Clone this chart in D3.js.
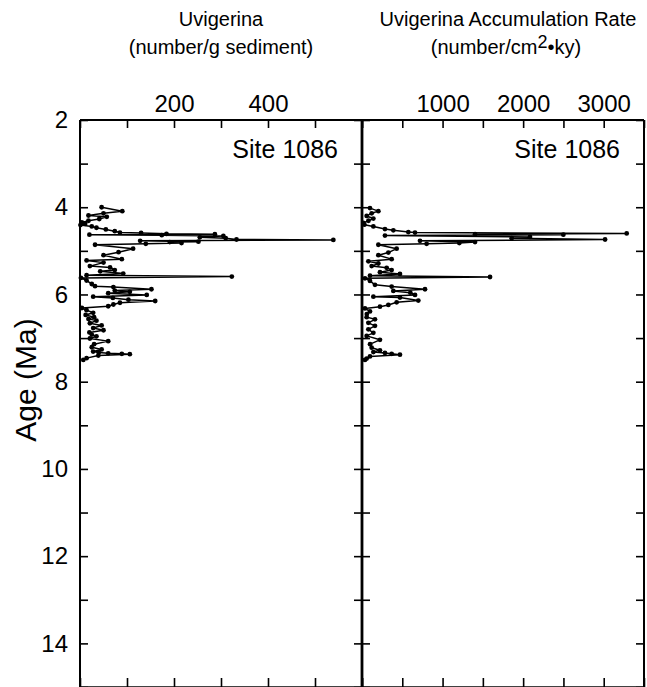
<!DOCTYPE html>
<html>
<head>
<meta charset="utf-8">
<script src="https://cdn.jsdelivr.net/npm/d3@7"></script>
<style>
  body { margin: 0; background: #fff; }
  svg { display: block; font-family: "Liberation Sans", Arial, Helvetica, sans-serif; }
</style>
</head>
<body>
<svg id="chart" width="647" height="687"></svg>
<script>
// ---- Data ----
const siteLabel = "Site 1086";
const ageTicks = [2,3,4,5,6,7,8,9,10,11,12,13,14,15];
const ageLabels = [2,4,6,8,10,12,14];
const countTicks = [0,100,200,300,400,500,600];
const countLabels = [200,400];
const arTicks = [0,500,1000,1500,2000,2500,3000,3500];
const arLabels = [1000,2000,3000];

// Uvigerina (number/g sediment): age (Ma), value
const countAge = [4.00,4.09,4.14,4.19,4.22,4.27,4.31,4.35,4.38,4.41,4.44,4.47,4.51,4.55,4.58,4.59,4.61,4.62,4.63,4.64,4.66,4.69,4.71,4.74,4.75,4.77,4.79,4.80,4.82,4.84,4.86,4.95,5.03,5.10,5.19,5.22,5.27,5.35,5.38,5.44,5.47,5.52,5.56,5.59,5.62,5.68,5.76,5.81,5.83,5.88,5.91,5.94,5.97,6.01,6.05,6.08,6.12,6.15,6.19,6.23,6.27,6.31,6.36,6.42,6.47,6.52,6.56,6.60,6.66,6.71,6.77,6.82,6.87,6.92,6.96,7.01,7.07,7.14,7.21,7.26,7.31,7.33,7.35,7.36,7.37,7.40,7.46,7.50];
const countVal = [46,90,50,18,57,41,18,4,11,1,25,35,55,74,85,130,184,287,20,174,305,255,310,333,539,128,252,191,216,140,32,113,82,50,89,14,50,21,64,74,43,92,14,323,2,14,25,32,71,152,74,106,60,142,28,70,103,160,85,71,60,4,14,28,12,30,18,35,21,46,28,50,20,25,35,21,60,30,25,46,28,40,60,89,106,39,14,7];

// Uvigerina accumulation rate (number/cm2·ky): age (Ma), value
const arAge = [4.02,4.09,4.14,4.20,4.26,4.31,4.36,4.40,4.44,4.50,4.53,4.57,4.58,4.60,4.62,4.63,4.65,4.68,4.71,4.74,4.77,4.80,4.82,4.84,4.86,4.95,5.04,5.10,5.19,5.24,5.29,5.35,5.39,5.44,5.49,5.53,5.57,5.60,5.63,5.69,5.78,5.82,5.88,5.92,5.96,6.01,6.05,6.07,6.14,6.18,6.24,6.28,6.32,6.39,6.45,6.52,6.57,6.65,6.72,6.80,6.88,6.95,7.04,7.14,7.22,7.28,7.32,7.34,7.36,7.38,7.42,7.47,7.50];
const arVal = [99,203,120,58,141,80,17,30,141,285,389,575,658,3285,1403,2499,285,2085,1858,3017,720,1403,1208,802,203,430,327,203,368,79,203,120,306,368,223,471,99,1589,37,99,161,368,782,389,600,658,141,471,699,430,327,223,37,99,60,58,161,79,161,79,141,58,223,100,120,223,141,285,368,471,99,58,37];

// ---- Layout ----
const svg = d3.select("#chart");
const yTop = 120, yBottom = 687;
const xL0 = 80, xMid = 362, xR1 = 644;
const font = "Liberation Sans, Arial, Helvetica, sans-serif";

const y = d3.scaleLinear().domain([2, 15]).range([yTop, yBottom]);
const xCount = d3.scaleLinear().domain([0, 600]).range([xL0, xMid]);
const xAR = d3.scaleLinear().domain([0, 3500]).range([xMid, xR1]);

function styleAxis(g, size) {
  g.select(".domain").remove();
  g.selectAll(".tick line").attr("stroke", "#000").attr("stroke-width", 1.6);
  g.selectAll(".tick text").attr("fill", "#000").attr("font-size", size).attr("font-family", font);
}

// Left y axis (ticks inward, labels outside)
svg.append("g").attr("transform", `translate(${xL0},0)`)
  .call(d3.axisLeft(y).tickValues(ageTicks).tickSizeInner(-8).tickSizeOuter(0).tickPadding(12)
    .tickFormat(d => ageLabels.includes(d) ? d : ""))
  .call(g => styleAxis(g, 24));

// Middle axis: ticks both sides
svg.append("g").attr("transform", `translate(${xMid},0)`)
  .call(d3.axisLeft(y).tickValues(ageTicks).tickSizeInner(8).tickSizeOuter(0).tickFormat(""))
  .call(g => styleAxis(g, 24));
svg.append("g").attr("transform", `translate(${xMid},0)`)
  .call(d3.axisRight(y).tickValues(ageTicks).tickSizeInner(8).tickSizeOuter(0).tickFormat(""))
  .call(g => styleAxis(g, 24));

// Right axis: ticks inward
svg.append("g").attr("transform", `translate(${xR1},0)`)
  .call(d3.axisRight(y).tickValues(ageTicks).tickSizeInner(-8).tickSizeOuter(0).tickFormat(""))
  .call(g => styleAxis(g, 24));

// Top axes
svg.append("g").attr("transform", `translate(0,${yTop})`)
  .call(d3.axisTop(xCount).tickValues(countTicks).tickSizeInner(-8).tickSizeOuter(0).tickPadding(8)
    .tickFormat(d => countLabels.includes(d) ? d : ""))
  .call(g => styleAxis(g, 24));
svg.append("g").attr("transform", `translate(0,${yTop})`)
  .call(d3.axisTop(xAR).tickValues(arTicks).tickSizeInner(-8).tickSizeOuter(0).tickPadding(8)
    .tickFormat(d => arLabels.includes(d) ? d : ""))
  .call(g => styleAxis(g, 24));

// Bottom axes (ticks pointing up)
svg.append("g").attr("transform", `translate(0,${yBottom})`)
  .call(d3.axisBottom(xCount).tickValues(countTicks).tickSizeInner(-9).tickSizeOuter(0).tickFormat(""))
  .call(g => styleAxis(g, 24));
svg.append("g").attr("transform", `translate(0,${yBottom})`)
  .call(d3.axisBottom(xAR).tickValues(arTicks).tickSizeInner(-9).tickSizeOuter(0).tickFormat(""))
  .call(g => styleAxis(g, 24));

// Frame
const frame = svg.append("g").attr("stroke", "#000").attr("fill", "none");
frame.append("line").attr("x1", xL0).attr("x2", xR1).attr("y1", yTop).attr("y2", yTop).attr("stroke-width", 2);
frame.append("line").attr("x1", xL0).attr("x2", xR1).attr("y1", yBottom).attr("y2", yBottom).attr("stroke-width", 1.6);
frame.append("line").attr("x1", xL0).attr("x2", xL0).attr("y1", yTop).attr("y2", yBottom).attr("stroke-width", 2);
frame.append("line").attr("x1", xR1).attr("x2", xR1).attr("y1", yTop).attr("y2", yBottom).attr("stroke-width", 2);
frame.append("line").attr("x1", xMid).attr("x2", xMid).attr("y1", yTop).attr("y2", yBottom).attr("stroke-width", 2.8);

// Data series
function drawSeries(ages, vals, xs) {
  const pts = ages.map((a, i) => [a, vals[i]]);
  const line = d3.line().x(d => xs(d[1])).y(d => y(d[0]));
  svg.append("path").datum(pts).attr("d", line)
    .attr("fill", "none").attr("stroke", "#000").attr("stroke-width", 1.5).attr("stroke-linejoin", "round");
  svg.append("g").selectAll("circle").data(pts).join("circle")
    .attr("cx", d => xs(d[1])).attr("cy", d => y(d[0])).attr("r", 2.4).attr("fill", "#000");
}
drawSeries(countAge, countVal, xCount);
drawSeries(arAge, arVal, xAR);

// Site labels
svg.append("text").attr("x", 338).attr("y", 158).attr("text-anchor", "end")
  .attr("font-size", 25).attr("font-family", font).text(siteLabel);
svg.append("text").attr("x", 620).attr("y", 158).attr("text-anchor", "end")
  .attr("font-size", 25).attr("font-family", font).text(siteLabel);

// Titles
svg.append("text").attr("x", 221).attr("y", 26).attr("text-anchor", "middle")
  .attr("font-size", 20).attr("font-family", font).text("Uvigerina");
svg.append("text").attr("x", 221).attr("y", 54).attr("text-anchor", "middle")
  .attr("font-size", 20).attr("font-family", font).text("(number/g sediment)");
svg.append("text").attr("x", 508).attr("y", 26).attr("text-anchor", "middle")
  .attr("font-size", 20).attr("font-family", font).text("Uvigerina Accumulation Rate");
const t2 = svg.append("text").attr("x", 506).attr("y", 54).attr("text-anchor", "middle")
  .attr("font-size", 20).attr("font-family", font);
t2.append("tspan").text("(number/cm");
t2.append("tspan").attr("dy", -6).attr("font-size", 18).text("2");
t2.append("tspan").attr("dy", 6).text("•ky)");

// Y axis title
svg.append("text").attr("transform", "translate(36,380) rotate(-90)")
  .attr("text-anchor", "middle").attr("font-size", 30).attr("font-family", font).text("Age (Ma)");
</script>
</body>
</html>
